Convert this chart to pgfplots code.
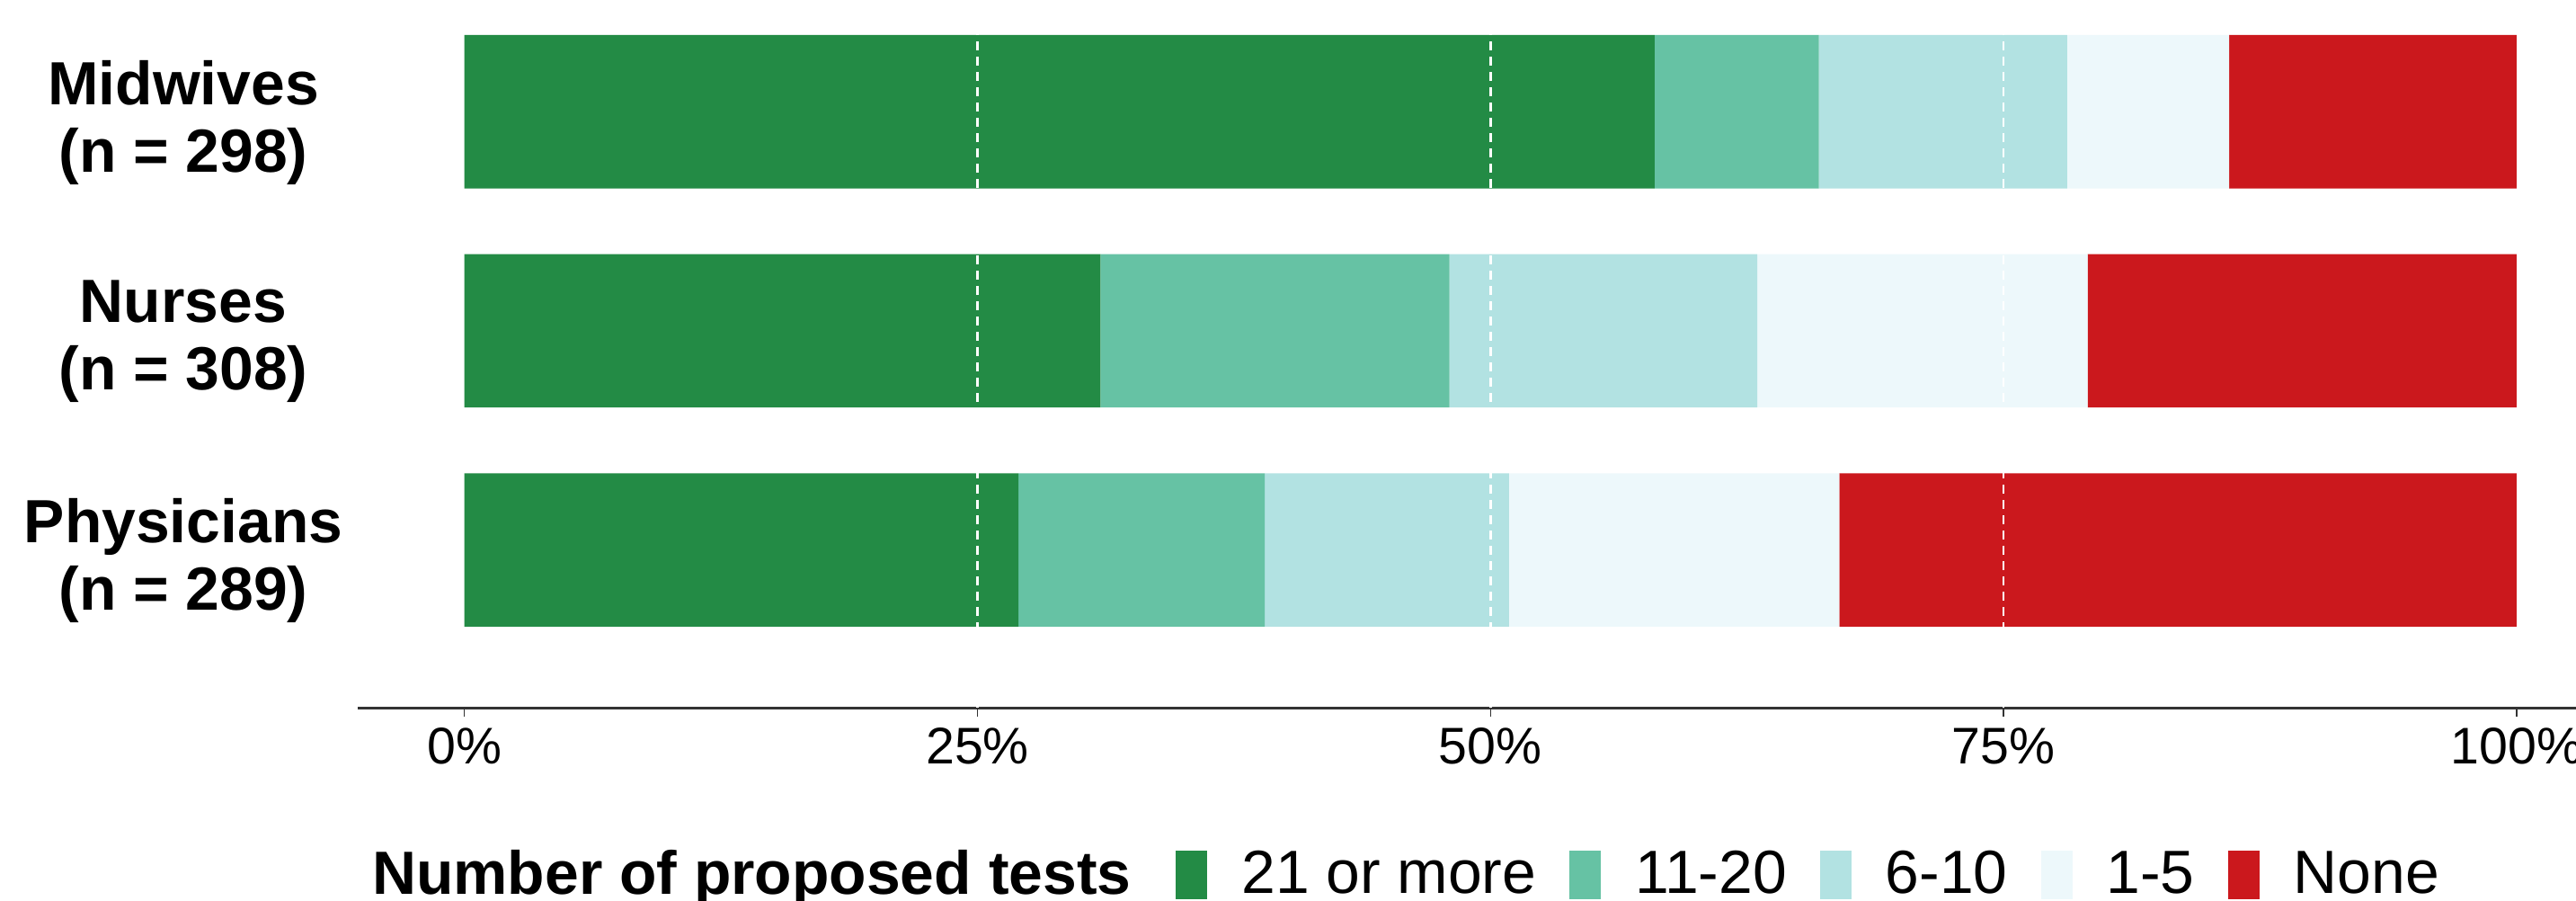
\documentclass[border=0pt]{standalone}
\usepackage{pgfplots}
\pgfplotsset{compat=1.18}
\usepackage{fontspec}
\setmainfont{Liberation Sans}
\definecolor{cA}{HTML}{238B45}
\definecolor{cB}{HTML}{66C2A4}
\definecolor{cC}{HTML}{B2E2E2}
\definecolor{cD}{HTML}{EDF8FB}
\definecolor{cE}{HTML}{CB181D}
\begin{document}
\begin{tikzpicture}
\begin{axis}[
  scale only axis, width=246.8mm, height=78.7mm,
  xmin=-5.2, xmax=102.9, ymin=-0.72, ymax=2.51,
  xbar stacked, bar width=0.7,
  axis x line=bottom, axis y line=left,
  y axis line style={draw=none},
  x axis line style={-, draw=black!80, line width=0.3mm},
  xtick={0,25,50,75,100},
  xticklabels={0\%,25\%,50\%,75\%,100\%},
  xtick style={draw=black!80, line width=0.15mm},
  tick align=outside, major tick length=1mm,
  extra x ticks={25,50,75},
  extra x tick labels={},
  extra x tick style={major tick length=0pt, xmajorgrids=true,
    major grid style={white, line width=0.25mm, dash pattern=on 1mm off 0.7mm}},
  ytick={0,1,2},
  yticklabels={{Physicians\\(n = 289)},{Nurses\\(n = 308)},{Midwives\\(n = 298)}},
  ytick style={draw=none},
  yticklabel style={align=center, anchor=center, xshift=-18.4mm, yshift=-1.2mm, font=\bfseries\fontsize{19.3}{21.5}\selectfont},
  xticklabel style={font=\fontsize{16.3}{18}\selectfont},
  axis on top,
  legend columns=-1,
  legend style={at={(-0.0134,-0.236)}, anchor=west, draw=none, fill=none,
    font=\fontsize{19.3}{20.5}\selectfont, nodes={inner sep=0pt},
    /tikz/every even column/.style={column sep=3.7mm},
    /tikz/every odd column/.style={column sep=3.8mm}},
  legend image code/.code={\fill[#1] (0mm,-2.7mm) rectangle (3.5mm,2.7mm);},
]
\addlegendimage{empty legend}
\addlegendentry{\textbf{Number of proposed tests}\rule{1.3mm}{0pt}}
\addplot[fill=cA, draw=none] coordinates {(27.0,0) (31.0,1) (58.0,2)};
\addlegendentry{21 or more}
\addplot[fill=cB, draw=none] coordinates {(12.0,0) (17.0,1) (8.0,2)};
\addlegendentry{11-20}
\addplot[fill=cC, draw=none] coordinates {(11.9,0) (15.0,1) (12.1,2)};
\addlegendentry{6-10}
\addplot[fill=cD, draw=none] coordinates {(16.1,0) (16.1,1) (7.9,2)};
\addlegendentry{1-5}
\addplot[fill=cE, draw=none] coordinates {(33.0,0) (20.9,1) (14.0,2)};
\addlegendentry{None}
\coordinate (sw) at (rel axis cs:0,0);
\end{axis}
\pgfresetboundingbox
\path[use as bounding box] (sw) ++(-39.8mm,-21.4mm) rectangle ++(286.6mm,100.1mm);
\end{tikzpicture}
\end{document}
